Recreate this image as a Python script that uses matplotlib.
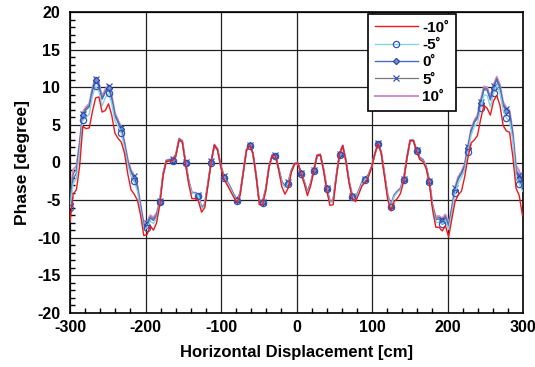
import numpy as np
import matplotlib
matplotlib.use("Agg")
import matplotlib.pyplot as plt
from matplotlib.ticker import MultipleLocator

plt.rcParams['font.family'] = ['Liberation Sans', 'DejaVu Sans']
plt.rcParams['font.weight'] = 'bold'
plt.rcParams['axes.unicode_minus'] = False

# scan positions [cm], one sample every 4.25 cm
step = 4.25
x = -300 + step * np.arange(142)

labels = ['-10˚', '-5˚', '0˚', '5˚', '10˚']

phase_m10 = [
    -7.9, -4.2, -3.6, -0.5, 4.8, 4.5, 4.6, 6.8, 8.6, 8.7,
    6.7, 6.9, 7.8, 6.3, 3.9, 3.2, 2.7, 1.2, -1.5, -3.6,
    -4.2, -5.0, -7.0, -9.7, -9.6, -8.4, -9.0, -8.0, -5.6, -1.8,
    0.1, 0.2, 0.25, 0.9, 3.0, 2.7, -0.2, -2.9, -4.8, -4.8,
    -5.1, -6.6, -6.0, -3.0, 0.0, 2.3, 1.6, -0.6, -2.2, -3.0,
    -3.8, -4.6, -5.3, -4.4, -1.4, 1.6, 2.3, 1.2, -1.8, -5.6,
    -5.6, -3.8, -0.7, 0.9, 0.9, -0.9, -3.2, -4.2, -3.4, -1.3,
    -0.2, -0.1, -1.5, -2.8, -4.4, -3.1, -1.1, 0.9, 1.0, -1.0,
    -3.7, -5.7, -5.6, -2.0, 1.1, 2.2, 0.1, -2.8, -4.8, -5.2,
    -4.2, -3.1, -2.6, -1.9, -0.7, 1.1, 2.5, 1.2, -1.9, -4.9,
    -6.4, -5.2, -4.8, -4.1, -2.5, 0.5, 2.9, 2.9, 1.5, 0.4,
    0.1, -0.8, -2.8, -6.3, -8.6, -8.6, -9.1, -8.4, -9.9, -7.5,
    -5.2, -4.3, -3.8, -1.9, 0.6, 2.6, 3.0, 3.6, 5.8, 7.6,
    7.2, 6.3, 8.2, 8.9, 7.6, 4.9, 4.2, 4.0, 0.8, -3.4,
    -4.4, -7.0]

phase_m5 = [
    -6.0, -2.8, -2.1, 1.6, 5.6, 6.0, 6.4, 8.8, 10.2, 9.4,
    7.5, 8.6, 9.2, 7.8, 5.5, 4.8, 3.9, 1.9, -0.4, -1.8,
    -2.5, -3.8, -6.4, -8.9, -8.7, -7.8, -8.1, -7.5, -5.3, -1.7,
    0.1, 0.2, 0.25, 0.9, 3.0, 2.7, -0.1, -2.6, -4.1, -4.1,
    -4.4, -6.2, -5.7, -2.9, 0.0, 2.2, 1.6, -0.6, -2.0, -2.7,
    -3.5, -4.4, -5.1, -4.3, -1.4, 1.5, 2.2, 1.1, -1.8, -5.4,
    -5.4, -3.7, -0.7, 0.8, 0.8, -0.9, -2.7, -3.3, -2.8, -1.2,
    -0.3, -0.2, -1.5, -2.7, -4.1, -2.9, -1.1, 0.8, 0.9, -1.0,
    -3.5, -5.3, -5.2, -1.9, 1.0, 2.1, 0.1, -2.7, -4.6, -4.9,
    -3.9, -2.8, -2.3, -1.8, -0.7, 1.0, 2.4, 1.2, -1.7, -4.5,
    -5.9, -4.5, -4.0, -3.6, -2.3, 0.5, 2.8, 2.8, 1.5, 0.5,
    0.2, -0.7, -2.6, -5.9, -8.0, -7.9, -8.2, -7.7, -8.9, -6.7,
    -4.1, -2.7, -2.0, -1.0, 1.4, 3.6, 4.8, 5.2, 7.2, 9.0,
    8.9, 7.4, 9.2, 10.3, 9.2, 6.9, 5.9, 5.5, 2.9, -2.0,
    -2.8, -3.8]

phase_0 = [
    -5.5, -2.2, -1.4, 2.3, 6.3, 7.0, 7.4, 9.5, 10.9, 10.1,
    8.4, 9.3, 9.9, 8.5, 6.2, 5.3, 4.4, 2.4, 0.1, -1.3,
    -2.0, -3.3, -5.9, -8.5, -8.3, -7.4, -7.7, -7.1, -5.2, -1.6,
    0.2, 0.3, 0.35, 1.0, 3.1, 2.8, 0.0, -2.5, -4.1, -4.1,
    -4.4, -6.1, -5.6, -2.8, 0.1, 2.3, 1.7, -0.5, -1.9, -2.6,
    -3.4, -4.3, -5.0, -4.2, -1.3, 1.6, 2.3, 1.2, -1.7, -5.3,
    -5.3, -3.6, -0.6, 0.9, 0.9, -0.8, -2.6, -3.2, -2.7, -1.1,
    -0.2, -0.1, -1.4, -2.6, -4.0, -2.8, -1.0, 0.9, 1.0, -0.9,
    -3.4, -5.2, -5.1, -1.8, 1.1, 2.2, 0.2, -2.6, -4.5, -4.8,
    -3.8, -2.7, -2.2, -1.7, -0.6, 1.1, 2.5, 1.3, -1.6, -4.4,
    -5.8, -4.4, -3.9, -3.5, -2.2, 0.6, 2.9, 2.9, 1.6, 0.6,
    0.3, -0.6, -2.5, -5.8, -7.6, -7.5, -7.8, -7.3, -8.5, -6.2,
    -3.6, -2.2, -1.5, -0.5, 1.9, 4.1, 5.3, 5.9, 7.9, 9.7,
    9.6, 8.3, 9.9, 11.0, 9.9, 7.6, 6.9, 6.5, 3.6, -1.3,
    -2.2, -3.3]

phase_p5 = [
    -5.0, -1.5, -0.9, 2.5, 6.5, 7.2, 7.6, 9.7, 11.1, 10.3,
    8.6, 9.5, 10.1, 8.7, 6.4, 5.45, 4.55, 2.55, 0.25, -1.15,
    -1.85, -3.15, -5.75, -8.3, -8.1, -7.2, -7.5, -6.9, -5.15, -1.55,
    0.25, 0.35, 0.4, 1.05, 3.15, 2.85, 0.05, -2.45, -4.05, -4.05,
    -4.35, -6.05, -5.55, -2.75, 0.15, 2.35, 1.75, -0.45, -1.85, -2.55,
    -3.35, -4.25, -4.95, -4.15, -1.25, 1.65, 2.35, 1.25, -1.65, -5.25,
    -5.25, -3.55, -0.55, 0.95, 0.95, -0.75, -2.55, -3.15, -2.65, -1.05,
    -0.15, -0.05, -1.35, -2.55, -3.95, -2.75, -0.95, 0.95, 1.05, -0.85,
    -3.35, -5.15, -5.05, -1.75, 1.15, 2.25, 0.25, -2.55, -4.45, -4.75,
    -3.75, -2.65, -2.15, -1.65, -0.55, 1.15, 2.55, 1.35, -1.55, -4.35,
    -5.75, -4.35, -3.85, -3.45, -2.15, 0.65, 2.95, 2.95, 1.65, 0.65,
    0.35, -0.55, -2.45, -5.75, -7.4, -7.3, -7.6, -7.1, -8.3, -6.05,
    -3.45, -2.05, -1.35, -0.35, 2.05, 4.25, 5.45, 6.1, 8.1, 9.9,
    9.8, 8.5, 10.1, 11.2, 10.1, 7.8, 7.1, 6.7, 3.8, -0.9,
    -1.7, -2.8]

phase_p10 = [
    -4.5, -0.9, -0.5, 2.7, 6.7, 7.4, 7.8, 9.9, 11.3, 10.5,
    8.8, 9.7, 10.3, 8.9, 6.6, 5.6, 4.7, 2.7, 0.4, -1.0,
    -1.7, -3.0, -5.6, -8.1, -7.9, -7.0, -7.3, -6.7, -5.1, -1.5,
    0.3, 0.4, 0.45, 1.1, 3.2, 2.9, 0.1, -2.4, -4.0, -4.0,
    -4.3, -6.0, -5.5, -2.7, 0.2, 2.4, 1.8, -0.4, -1.8, -2.5,
    -3.3, -4.2, -4.9, -4.1, -1.2, 1.7, 2.4, 1.3, -1.6, -5.2,
    -5.2, -3.5, -0.5, 1.0, 1.0, -0.7, -2.5, -3.1, -2.6, -1.0,
    -0.1, 0.0, -1.3, -2.5, -3.9, -2.7, -0.9, 1.0, 1.1, -0.8,
    -3.3, -5.1, -5.0, -1.7, 1.2, 2.3, 0.3, -2.5, -4.4, -4.7,
    -3.7, -2.6, -2.1, -1.6, -0.5, 1.2, 2.6, 1.4, -1.5, -4.3,
    -5.7, -4.3, -3.8, -3.4, -2.1, 0.7, 3.0, 3.0, 1.7, 0.7,
    0.4, -0.5, -2.4, -5.7, -7.2, -7.1, -7.4, -6.9, -8.1, -5.9,
    -3.3, -1.9, -1.2, -0.2, 2.2, 4.4, 5.6, 6.3, 8.3, 10.1,
    10.0, 8.7, 10.3, 11.4, 10.3, 8.0, 7.3, 6.9, 4.0, -0.4,
    -1.1, -2.3]

mk_blue = '#3355bb'

fig = plt.figure(figsize=(5.35, 3.67), dpi=100)
ax = fig.add_axes([70 / 535, 1 - 313 / 367, 453 / 535, 301 / 367])

ax.plot(x, phase_p10, color='#d08ed0', lw=1.4, zorder=2, label=labels[4])
ax.plot(x, phase_p5, color='#7a7a7a', lw=0.9, marker='x', ms=4.5, mew=0.9,
        mec=mk_blue, markevery=4, zorder=3, label=labels[3])
ax.plot(x, phase_0, color='#4a6cc0', lw=1.0, marker='D', ms=3.2, mew=0.8,
        mec='#25449a', mfc='#6f8fd8', markevery=4, zorder=3, label=labels[2])
ax.plot(x, phase_m5, color='#86d4e6', lw=1.0, marker='o', ms=4.5, mew=0.9,
        mec=mk_blue, mfc='none', markevery=4, zorder=3, label=labels[1])
ax.plot(x, phase_m10, color='#f01818', lw=1.0, zorder=4, label=labels[0])

ax.set_xlim(-300, 300)
ax.set_ylim(-20, 20)
ax.xaxis.set_major_locator(MultipleLocator(100))
ax.xaxis.set_minor_locator(MultipleLocator(20))
ax.yaxis.set_major_locator(MultipleLocator(5))
ax.yaxis.set_minor_locator(MultipleLocator(1))
ax.tick_params(which='both', direction='in', top=False, right=False,
               labelsize=11.5, width=1.0)
ax.tick_params(which='major', length=0, pad=5)
ax.tick_params(which='minor', length=3.5)
ax.tick_params(axis='y', which='major', pad=7)
ax.grid(True, which='major', color='#202020', lw=0.9)
ax.set_axisbelow(True)
for sp in ax.spines.values():
    sp.set_linewidth(1.2)

ax.set_xlabel('Horizontal Displacement [cm]', fontsize=12, fontweight='bold', labelpad=7)
ax.set_ylabel('Phase [degree]', fontsize=12.5, fontweight='bold', labelpad=5)

h, l = ax.get_legend_handles_labels()
order = [4, 3, 2, 1, 0]
leg = ax.legend([h[i] for i in order], [l[i] for i in order],
                loc='upper left', bbox_to_anchor=(0.658, 0.994),
                borderaxespad=0, fancybox=False, framealpha=1,
                edgecolor='black', handlelength=2.8, handletextpad=0.3,
                labelspacing=0.22, borderpad=0.45,
                prop={'weight': 'bold', 'size': 11})
leg.get_frame().set_linewidth(1.2)
leg.set_zorder(10)

fig.savefig('out.png', dpi=100)
